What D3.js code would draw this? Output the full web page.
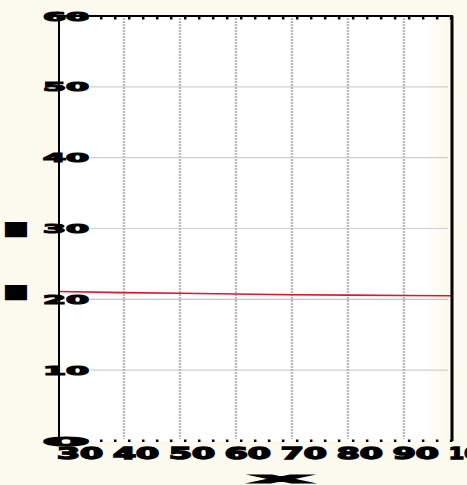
<!DOCTYPE html>
<html>
<head>
<meta charset="utf-8">
<script src="https://cdn.jsdelivr.net/npm/d3@7"></script>
<style>
  body { margin: 0; background: #fcf9ee; }
  svg { display: block; }
  text { font-family: "DejaVu Sans", sans-serif; font-weight: bold; fill: #000; }
</style>
</head>
<body>
<svg id="chart" width="467" height="485"></svg>
<script>
// values
var xTicks = [30, 40, 50, 60, 70, 80, 90, 100];
var xGrid = [40, 50, 60, 70, 80, 90];
var yTicks = [0, 10, 20, 30, 40, 50, 60];
var redX = [28.4, 40, 50, 60, 70, 80, 90, 98.6];
var redY = [21.1, 20.95, 20.85, 20.75, 20.65, 20.6, 20.55, 20.5];
var xTitle = "x";
var yTitle = ["■", "■"];

var svg = d3.select("#chart");
var pLeft = 59, pRight = 452, pTop = 16, pBottom = 441;

var x = d3.scaleLinear().domain([28.4, 98.6]).range([pLeft, pRight]);
var y = d3.scaleLinear().domain([0, 60]).range([pBottom, pTop]);

// plot background, fading to cream at the right edge
var defs = svg.append("defs");
var grad = defs.append("linearGradient").attr("id", "bg");
grad.append("stop").attr("offset", "0.93").attr("stop-color", "#ffffff");
grad.append("stop").attr("offset", "1").attr("stop-color", "#fbf7e8");
svg.append("rect")
    .attr("x", pLeft).attr("y", pTop)
    .attr("width", pRight - pLeft).attr("height", pBottom - pTop)
    .attr("fill", "url(#bg)");

// horizontal grid
svg.append("g").selectAll("line")
    .data(yTicks.slice(1, -1))
    .join("line")
    .attr("x1", 90).attr("x2", pRight - 4)
    .attr("y1", d => y(d)).attr("y2", d => y(d))
    .attr("stroke", d => d == 20 ? "#c4c8bc" : "#cfcfcf")
    .attr("stroke-width", 1.2);

// vertical dashed grid
svg.append("g").selectAll("line")
    .data(xGrid)
    .join("line")
    .attr("x1", d => x(d)).attr("x2", d => x(d))
    .attr("y1", pTop + 2).attr("y2", pBottom - 2)
    .attr("stroke", "#bcbcbc")
    .attr("stroke-width", 2.4)
    .attr("stroke-dasharray", "2,1");

// red series
var line = d3.line()
    .x((d, i) => x(redX[i]))
    .y(d => y(d));
svg.append("path")
    .attr("d", line(redY))
    .attr("fill", "none")
    .attr("stroke", "#e4132e")
    .attr("stroke-width", 1.6);

// frame
svg.append("line").attr("x1", pLeft).attr("x2", pRight + 1).attr("y1", pTop).attr("y2", pTop)
    .attr("stroke", "#000").attr("stroke-width", 2);
svg.append("line").attr("x1", pLeft).attr("x2", pLeft).attr("y1", pTop).attr("y2", pBottom + 1)
    .attr("stroke", "#000").attr("stroke-width", 2);
svg.append("line").attr("x1", pRight).attr("x2", pRight).attr("y1", pTop).attr("y2", pBottom)
    .attr("stroke", "#000").attr("stroke-width", 3);

// minor ticks (dots) along top and bottom
var minor = d3.range(x.domain()[0], x.domain()[1], 2.5);
svg.append("g").selectAll("rect")
    .data(minor)
    .join("rect")
    .attr("x", d => x(d) - 1).attr("y", pTop + 1)
    .attr("width", 2.5).attr("height", 2.5).attr("fill", "#000");
svg.append("g").selectAll("rect")
    .data(minor)
    .join("rect")
    .attr("x", d => x(d) - 1).attr("y", pBottom - 1.5)
    .attr("width", 2.5).attr("height", 2.5).attr("fill", "#000");

// y tick labels, squashed wide over the axis
svg.append("g").selectAll("text")
    .data(yTicks)
    .join("text")
    .attr("x", 66).attr("y", d => y(d) + 4.5)
    .attr("text-anchor", "middle")
    .attr("font-size", 13)
    .attr("stroke", "#000").attr("stroke-width", 1.2)
    .attr("textLength", 46)
    .attr("lengthAdjust", "spacingAndGlyphs")
    .text(d => d);

// x tick labels
svg.append("g").selectAll("text")
    .data(xTicks)
    .join("text")
    .attr("x", d => x(d) + 12).attr("y", 459)
    .attr("text-anchor", "middle")
    .attr("font-size", 16)
    .attr("stroke", "#000").attr("stroke-width", 1.4)
    .attr("textLength", 46)
    .attr("lengthAdjust", "spacingAndGlyphs")
    .text(d => d);

// axis titles
svg.append("text")
    .attr("x", 281).attr("y", 483)
    .attr("text-anchor", "middle")
    .attr("font-size", 14)
    .attr("stroke", "#000").attr("stroke-width", 1)
    .attr("textLength", 62)
    .attr("lengthAdjust", "spacingAndGlyphs")
    .text(xTitle);

svg.append("g").selectAll("text")
    .data(yTitle)
    .join("text")
    .attr("transform", (d, i) => "translate(16," + (i == 0 ? 235 : 298) + ") scale(1.45,1)")
    .attr("text-anchor", "middle")
    .attr("font-size", 20)
    .text(d => d);
</script>
</body>
</html>
